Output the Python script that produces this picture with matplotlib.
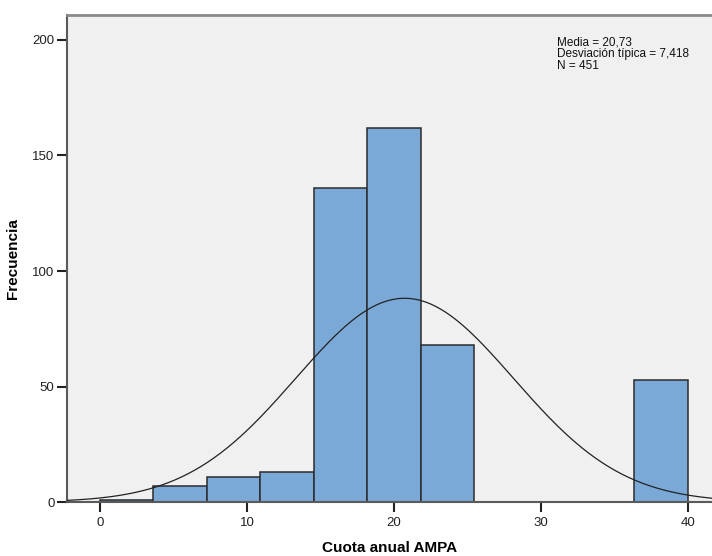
import matplotlib
matplotlib.use("Agg")
import matplotlib.pyplot as plt
import numpy as np

plt.rcParams["font.family"] = ["Liberation Sans", "DejaVu Sans"]

# histogram of "Cuota anual AMPA" (11 bins from 0 to 40)
bin_edges = np.linspace(0, 40, 12)
counts = [1, 7, 11, 13, 136, 162, 68, 0, 0, 0, 53]
mean, sd, n = 20.73, 7.418, 451
stats_text = "Media = 20,73\nDesviación típica = 7,418\nN = 451"

BAR = "#7BA9D7"
BG = "#F0F0F0"
SPINE = "#5A5A5A"

fig = plt.figure(figsize=(7.12, 5.56), dpi=100)
ax = fig.add_axes([0.094, 0.097, 0.906, 0.876])
ax.set_facecolor(BG)

widths = np.diff(bin_edges)
ax.bar(bin_edges[:-1], counts, width=widths, align="edge", color=BAR,
       edgecolor="#2B2B2B", linewidth=1.1, zorder=2)

# fitted normal curve, scaled to counts
xs = np.linspace(-2.3, 41.7, 400)
bw = widths[0]
ys = n * bw / (sd * np.sqrt(2 * np.pi)) * np.exp(-0.5 * ((xs - mean) / sd) ** 2)
ax.plot(xs, ys, color="#222222", lw=0.9, zorder=3)

ax.set_xlim(-2.25, 41.65)
ax.set_ylim(0, 210.8)
ax.set_xticks([0, 10, 20, 30, 40])
ax.set_yticks([0, 50, 100, 150, 200])
ax.tick_params(axis="both", labelsize=9.5, colors="#222222", width=1.5, length=7)
ax.tick_params(axis="y", pad=2)
for s in ("left", "bottom", "top"):
    ax.spines[s].set_color(SPINE)
    ax.spines[s].set_linewidth(1.5)
ax.spines["top"].set_color("#8A8A8A")
ax.spines["top"].set_linewidth(2)
ax.spines["right"].set_visible(False)

ax.set_xlabel("Cuota anual AMPA", fontsize=11, fontweight="bold", labelpad=9)
ax.set_ylabel("Frecuencia", fontsize=11, fontweight="bold", labelpad=9)

ax.text(31.1, 201.5, stats_text, fontsize=8.5, va="top", ha="left",
        color="#111111", linespacing=1.0)

fig.savefig("out.png", dpi=100)
